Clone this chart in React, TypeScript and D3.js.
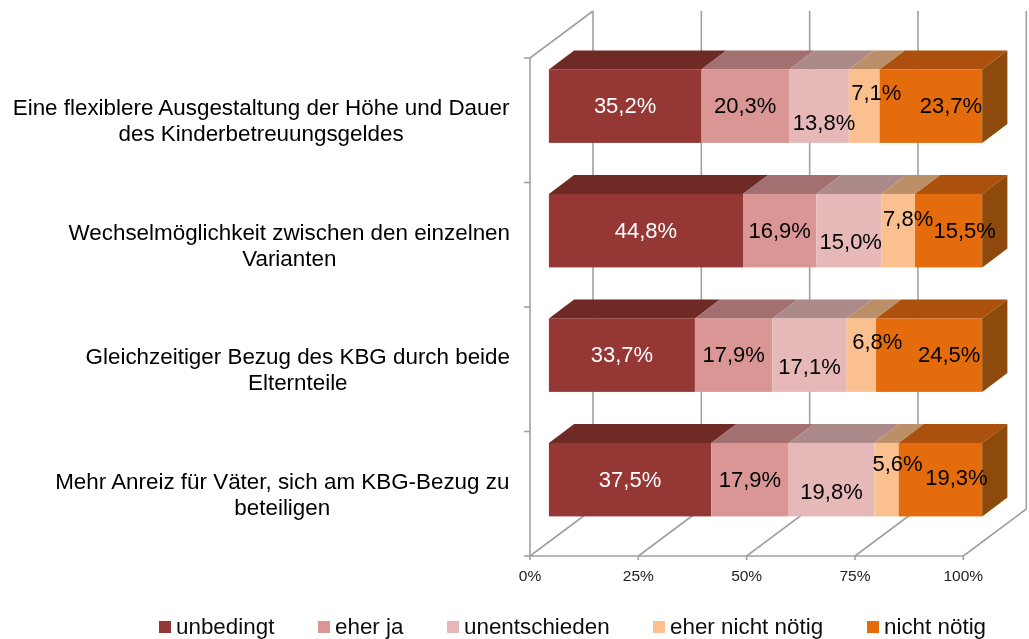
import React from "react";
import * as d3 from "d3";

const categoryLines = [
  ["Eine flexiblere Ausgestaltung der Höhe und Dauer", "des Kinderbetreuungsgeldes"],
  ["Wechselmöglichkeit zwischen den einzelnen", "Varianten"],
  ["Gleichzeitiger Bezug des KBG durch beide", "Elternteile"],
  ["Mehr Anreiz für Väter, sich am KBG-Bezug zu", "beteiligen"],
];
const seriesNames = ["unbedingt", "eher ja", "unentschieden", "eher nicht nötig", "nicht nötig"];
const unbedingt = [35.2, 44.8, 33.7, 37.5];
const eherJa = [20.3, 16.9, 17.9, 17.9];
const unentschieden = [13.8, 15.0, 17.1, 19.8];
const eherNichtNoetig = [7.1, 7.8, 6.8, 5.6];
const nichtNoetig = [23.7, 15.5, 24.5, 19.3];
const seriesValues = [unbedingt, eherJa, unentschieden, eherNichtNoetig, nichtNoetig];
const xTicks = [0, 0.25, 0.5, 0.75, 1];

const frontColors = ["#953735", "#D99694", "#E6B9B8", "#FAC090", "#E46C0A"];
const topColors = ["#6F2A28", "#A2706F", "#AC8A89", "#BB9069", "#AB5107"];
const sideColor = "#8E4A07";
const gridColor = "#A0A0A0";

// Where the source chart moved individual data labels off their segment centre (row, series) => [dx, dy]
const labelNudge = [
  [[0, 0], [0, 0], [5, 17], [12, -13], [20, 0]],
  [[0, 0], [0, 0], [2, 11], [10, -12], [16, 0]],
  [[0, 0], [0, 0], [0, 12], [16, -13], [20, 0]],
  [[0, 0], [0, 0], [0, 12], [11, -16], [16, -2]],
];

const legendSwatchX = [159, 318, 447, 653, 867];

const FONT = "'Liberation Sans', Arial, sans-serif";
const CATEGORY_FONT_SIZE = 22.4;
const fmt = (v: number) => v.toFixed(1).replace(".", ",") + "%";

// Width of a text in the category font, so the second line can be centred under the first.
function measure(text: string) {
  const ctx = document.createElement("canvas").getContext("2d")!;
  ctx.font = `${CATEGORY_FONT_SIZE}px 'Liberation Sans', Arial, sans-serif`;
  return ctx.measureText(text).width;
}

export default function App() {
  const rows = categoryLines.map((_, i) => {
    const r: Record<string, number> = {};
    seriesNames.forEach((s, j) => (r[s] = seriesValues[j][i]));
    return r;
  });
  const stacked = d3.stack().keys(seriesNames).offset(d3.stackOffsetExpand)(rows as any);

  const x = d3.scaleLinear().domain([0, 1]).range([530, 963.3]);
  const y = d3.scaleBand<number>().domain(d3.range(categoryLines.length)).range([58, 556]);
  const depth = { dx: 63, dy: -47 };
  const near = 0.3;
  const far = 0.7;
  const barH = 73.5;
  const dpx = (f: number) => depth.dx * f;
  const dpy = (f: number) => depth.dy * f;
  const line = d3.line();

  const floorY = y.range()[1];
  const topY = y.range()[0];

  return (
    <svg
      width={1029}
      height={639}
      style={{ position: "absolute", left: 0, top: 0, background: "#fff" }}
      fontFamily={FONT}
    >
      <defs>
        <filter id="soft" x="-2%" y="-2%" width="104%" height="104%">
          <feGaussianBlur stdDeviation="0.45" />
        </filter>
      </defs>
      <g filter="url(#soft)">
        {/* walls and floor */}
        <g stroke={gridColor} strokeWidth={1.6} fill="none">
          {xTicks.map((t) => (
            <g key={t}>
              <path d={line([[x(t) + depth.dx, topY + depth.dy], [x(t) + depth.dx, floorY + depth.dy]])!} />
              <path d={line([[x(t), floorY], [x(t) + depth.dx, floorY + depth.dy]])!} />
              <path d={line([[x(t), floorY], [x(t), floorY + 4]])!} />
            </g>
          ))}
          <path d={line([[x(0), topY], [x(0), floorY], [x(1), floorY]])!} />
          <path d={line([[x(0), topY], [x(0) + depth.dx, topY + depth.dy]])!} />
          {d3.range(categoryLines.length + 1).map((i) => {
            const ty = topY + (i * (floorY - topY)) / categoryLines.length;
            return <path key={i} d={line([[x(0) - 6, ty], [x(0), ty]])!} />;
          })}
        </g>

        {/* bars */}
        {categoryLines.map((_, i) => {
          const cy = y(i)! + y.bandwidth() / 2 + dpy(near);
          const y0 = cy - barH / 2;
          const y1 = cy + barH / 2;
          const off = dpx(near);
          const tdx = dpx(far) - dpx(near);
          const tdy = dpy(far) - dpy(near);
          const last = stacked[stacked.length - 1][i];
          const xr = x(last[1]) + off;
          return (
            <g key={i}>
              {stacked.map((s, j) => {
                const xa = x(s[i][0]) + off;
                const xb = x(s[i][1]) + off;
                return (
                  <g key={j}>
                    <path
                      d={line([[xa, y0], [xb, y0], [xb + tdx, y0 + tdy], [xa + tdx, y0 + tdy]])! + "Z"}
                      fill={topColors[j]}
                    />
                    <rect x={xa} y={y0} width={xb - xa} height={barH} fill={frontColors[j]} />
                  </g>
                );
              })}
              <path
                d={line([[xr, y0], [xr + tdx, y0 + tdy], [xr + tdx, y1 + tdy], [xr, y1]])! + "Z"}
                fill={sideColor}
              />
              {stacked.map((s, j) => {
                const xc = x((s[i][0] + s[i][1]) / 2) + off;
                const [nx, ny] = labelNudge[i][j];
                return (
                  <text
                    key={j}
                    x={xc + nx}
                    y={cy + ny}
                    dy="0.32em"
                    textAnchor="middle"
                    fontSize={22}
                    fill={j === 0 ? "#fff" : "#000"}
                  >
                    {fmt(seriesValues[j][i])}
                  </text>
                );
              })}
            </g>
          );
        })}

        {/* category labels: block right-aligned, lines centred within it */}
        {categoryLines.map((lines, i) => {
          const c = y(i)! + y.bandwidth() / 2;
          const cx = 510 - measure(lines[0]) / 2;
          return lines.map((t, k) => (
            <text
              key={k}
              x={cx}
              y={c + (k === 0 ? -13 : 13)}
              dy="0.36em"
              textAnchor="middle"
              fontSize={CATEGORY_FONT_SIZE}
              fill="#000"
            >
              {t}
            </text>
          ));
        })}

        {/* x axis labels */}
        {xTicks.map((t) => (
          <text key={t} x={x(t)} y={575} dy="0.36em" textAnchor="middle" fontSize={15.5} fill="#222">
            {d3.format(".0%")(t)}
          </text>
        ))}

        {/* legend */}
        {seriesNames.map((s, j) => (
          <g key={s}>
            <rect x={legendSwatchX[j]} y={621} width={12} height={12} fill={frontColors[j]} />
            <text x={legendSwatchX[j] + 17} y={626} dy="0.36em" fontSize={22.4} fill="#111">
              {s}
            </text>
          </g>
        ))}
      </g>
    </svg>
  );
}
